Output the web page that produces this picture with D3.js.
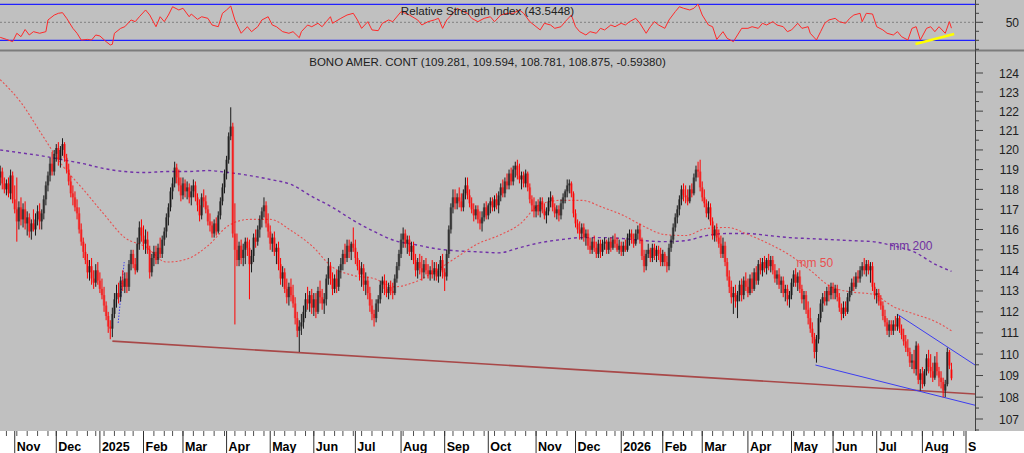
<!DOCTYPE html>
<html><head><meta charset="utf-8">
<script src="https://cdn.jsdelivr.net/npm/d3@7"></script>
<style>
body{margin:0;background:#fff;overflow:hidden}
svg{display:block}
text{font-family:"Liberation Sans",Arial,Helvetica,sans-serif}
</style></head>
<body><svg id="c" width="1024" height="453"></svg>
<script>
// ---------------- DATA ----------------
const firstDay = "2024-10-23";
const lastCalendarDay = "2026-09-04";
const holidays = ["2024-11-28","2024-12-25","2025-01-01","2025-01-20","2025-02-17","2025-04-18","2025-05-26",
  "2025-06-19","2025-07-04","2025-09-01","2025-11-27","2025-12-25","2026-01-01","2026-01-19","2026-02-16",
  "2026-04-03","2026-05-25","2026-06-19","2026-07-03"];
const monthLabels = ["Nov","Dec","2025","Feb","Mar","Apr","May","Jun","Jul","Aug","Sep","Oct","Nov","Dec",
  "2026","Feb","Mar","Apr","May","Jun","Jul","Aug","Sep"];

const open = [
118.6,118.9,118.3,118.0,118.3,117.8,118.7,117.5,117.0,116.4,
117.1,116.5,117.0,116.3,116.6,115.9,116.3,116.0,116.5,116.9,
116.4,116.8,117.5,118.2,118.7,119.3,118.9,119.8,120.1,119.5,
120.0,120.3,119.6,119.0,118.4,117.8,117.6,117.1,116.8,116.0,
115.4,114.9,114.5,113.9,114.2,113.6,113.4,114.0,113.5,113.1,
112.8,112.3,111.8,111.3,111.2,111.9,112.6,112.9,112.7,113.5,
113.2,113.6,113.2,114.3,114.8,114.3,114.0,115.3,116.1,115.7,
115.3,115.5,115.0,113.9,114.6,114.9,114.5,115.1,114.8,115.5,
115.9,116.6,117.1,117.9,118.3,119.1,118.6,118.2,117.7,118.3,
117.9,118.1,117.6,117.9,118.2,117.6,117.2,116.7,117.6,117.4,
117.0,116.4,116.2,115.8,116.3,115.9,116.7,117.4,118.1,118.8,
119.5,120.7,121.2,115.8,115.0,114.5,115.2,114.6,115.0,115.4,
115.1,114.3,114.7,115.6,115.4,116.0,116.5,116.9,117.2,116.3,
115.9,115.3,115.6,114.9,115.1,114.3,113.6,113.9,113.1,112.7,
113.2,112.8,112.4,111.7,111.1,111.3,111.5,112.0,112.6,112.4,
112.8,112.2,112.6,112.0,113.0,112.7,112.4,112.6,113.6,114.2,
113.6,113.1,113.6,113.2,114.0,114.3,114.8,114.6,115.2,114.9,
115.3,115.1,114.6,114.2,113.8,114.1,113.3,113.5,112.9,112.3,
111.9,111.7,112.4,112.6,113.3,113.5,113.1,112.9,113.2,113.0,
112.9,113.6,114.2,114.8,115.5,115.8,115.3,115.5,114.9,115.2,
114.5,114.0,114.4,114.1,113.9,114.3,114.0,113.8,114.0,113.8,
114.1,113.7,114.0,114.5,113.9,113.7,114.8,116.0,117.1,117.6,
117.3,117.6,117.4,117.1,117.8,118.2,117.7,117.3,117.0,116.7,
117.0,116.5,116.3,116.6,117.1,116.7,117.2,117.4,117.1,117.5,
117.2,117.7,118.1,117.8,118.4,118.2,118.8,118.4,119.0,119.2,
118.7,118.5,118.7,118.3,118.8,118.1,117.5,117.2,116.9,117.2,
116.9,117.4,117.0,116.7,116.9,117.4,117.6,117.1,116.8,117.0,
116.7,117.3,117.6,117.9,118.2,118.3,117.8,116.8,116.3,116.0,
115.8,116.1,115.6,115.8,115.2,115.0,115.4,115.1,114.8,115.3,
114.9,115.3,115.4,115.0,115.4,115.1,115.5,115.3,115.0,115.2,
114.9,115.2,115.0,115.6,115.8,115.5,115.3,115.8,116.0,115.5,
114.7,114.2,114.8,115.0,114.6,115.1,114.7,115.0,114.8,114.4,
114.8,114.4,114.2,115.1,115.5,116.1,116.6,117.0,117.5,118.0,
117.7,117.6,117.4,118.0,117.8,118.6,119.0,118.9,118.1,117.6,
117.3,116.8,117.1,116.4,115.7,116.0,115.6,115.3,114.8,115.2,
114.4,113.7,113.2,112.7,112.9,112.5,112.8,113.3,112.8,113.5,
113.2,112.9,113.6,113.1,113.9,113.5,114.3,114.0,114.4,114.1,
114.5,114.2,114.5,114.0,113.6,113.8,113.3,113.5,112.9,113.1,
112.6,112.8,113.4,113.8,113.4,113.7,113.1,112.6,112.8,112.1,
111.7,111.2,110.8,110.1,110.7,111.7,112.4,112.7,112.5,113.0,
112.8,113.2,112.9,113.1,112.7,112.2,111.9,112.2,112.0,112.7,
113.0,113.4,113.2,113.7,113.6,114.0,114.2,114.0,114.3,114.0,
114.2,113.2,112.8,112.9,112.5,112.3,111.8,111.5,111.1,111.4,
111.1,111.4,111.3,111.7,111.2,110.9,110.6,110.3,110.1,109.6,
109.7,109.3,110.4,108.8,109.1,108.6,109.2,109.8,109.4,109.2,
108.9,109.6,109.2,108.9,108.7,108.3,108.6,110.1,109.281];

const high = [
119.2,119.1,118.6,118.5,118.6,119.0,118.9,118.2,118.6,117.4,
117.6,117.3,117.4,116.9,116.8,116.5,117.0,116.8,117.2,117.3,
117.0,117.7,118.4,118.9,119.6,119.9,120.0,120.3,120.4,120.2,
120.6,120.4,119.8,119.3,118.7,118.2,117.9,117.5,117.1,116.3,
115.6,115.3,114.8,114.5,114.6,114.0,114.3,114.4,113.9,113.6,
113.2,112.5,112.0,111.6,112.2,112.9,113.3,113.4,113.7,114.0,
113.9,113.9,114.5,115.0,115.0,114.6,115.6,116.4,116.5,116.2,
116.0,115.9,115.2,114.8,115.2,115.2,115.3,115.6,115.7,116.1,
116.8,117.3,118.1,118.6,119.4,119.3,119.0,118.6,118.6,118.5,
118.4,118.3,118.2,118.5,118.4,117.8,117.5,117.8,118.0,117.7,
117.2,116.8,116.4,116.5,116.6,116.9,117.6,118.3,119.0,119.7,
120.9,122.2,121.4,117.3,115.8,115.4,115.5,115.3,115.6,115.6,
115.5,115.0,115.8,116.0,116.2,116.7,117.1,117.6,117.4,116.8,
116.2,115.8,115.9,115.3,115.4,114.6,114.2,114.1,113.6,113.4,
113.6,113.3,112.7,112.0,111.6,111.9,112.3,112.9,113.2,113.0,
113.1,112.9,112.9,113.2,113.5,113.1,112.9,113.8,114.6,114.4,
113.9,113.8,114.0,114.2,114.6,115.0,115.3,115.5,115.5,115.4,
116.1,115.5,114.9,114.5,114.4,114.3,113.9,113.7,113.2,112.6,
112.1,112.6,112.8,113.5,113.7,113.8,113.5,113.4,113.5,113.4,
113.8,114.4,115.0,115.8,116.1,116.0,115.7,115.7,115.4,115.4,
114.8,114.6,114.8,114.7,114.5,114.6,114.3,114.2,114.5,114.4,
114.4,114.3,114.7,114.8,114.1,115.0,116.2,117.3,118.0,118.0,
117.8,118.1,117.8,118.0,118.6,118.6,118.0,117.6,117.3,117.2,
117.2,116.9,116.9,117.3,117.4,117.3,117.6,117.6,117.7,117.8,
117.9,118.3,118.5,118.6,118.8,119.0,119.1,119.2,119.4,119.5,
119.3,118.9,118.9,119.0,118.9,118.3,117.7,117.6,117.4,117.5,
117.6,117.6,117.3,117.1,117.6,117.9,117.7,117.3,117.2,117.2,
117.5,117.8,118.0,118.5,118.5,118.4,117.9,117.0,116.5,116.4,
116.3,116.3,116.0,116.0,115.6,115.6,115.7,115.4,115.5,115.5,
115.5,115.6,115.5,115.6,115.6,115.7,115.8,115.6,115.5,115.4,
115.4,115.5,115.8,116.0,116.0,115.8,116.0,116.2,116.3,115.6,
115.0,115.0,115.3,115.1,115.3,115.3,115.2,115.2,115.1,115.0,
114.9,114.7,115.3,115.7,116.3,116.8,117.2,117.7,118.2,118.3,
118.2,118.0,118.2,118.3,118.8,119.2,119.4,119.5,118.4,118.0,
117.5,117.4,117.3,116.6,116.2,116.3,116.0,115.7,115.6,115.4,
114.6,114.0,113.5,113.2,113.3,113.0,113.5,113.6,113.7,113.9,
113.6,113.8,113.9,114.1,114.2,114.5,114.6,114.6,114.7,114.6,
114.8,114.7,114.7,114.3,114.0,114.1,113.7,113.7,113.3,113.3,
113.0,113.6,114.0,114.1,113.9,114.0,113.3,113.0,113.0,112.5,
112.2,111.5,111.0,110.9,111.9,112.6,112.9,113.0,113.2,113.3,
113.4,113.4,113.3,113.3,112.9,112.4,112.5,112.5,112.9,113.2,
113.6,113.7,113.9,114.0,114.2,114.4,114.6,114.5,114.5,114.4,
114.4,113.4,113.1,113.1,112.8,112.5,112.1,111.7,111.6,111.6,
111.6,111.8,111.9,111.8,111.4,111.2,110.9,110.7,110.3,110.0,
110.2,110.6,110.5,109.3,109.4,109.3,110.0,110.2,110.0,109.6,
109.9,110.1,109.4,109.2,108.9,108.8,110.3,110.2,109.594];

const low = [
118.2,118.0,117.8,117.7,117.6,117.5,117.3,116.8,115.4,116.0,
116.2,116.1,116.0,115.7,115.6,115.5,115.9,115.7,116.2,116.0,
116.0,116.5,117.2,117.9,118.4,118.7,118.7,119.4,119.2,119.1,
119.7,119.4,118.8,118.2,117.6,117.2,116.9,116.5,115.8,115.2,
114.6,114.3,113.6,113.5,113.3,113.1,113.2,113.3,112.9,112.6,
112.0,111.6,111.0,110.7,110.8,111.7,112.2,112.4,112.5,113.0,
112.9,112.9,113.0,114.0,114.1,113.8,113.9,115.0,115.4,115.0,
114.8,114.8,113.6,113.7,114.2,114.3,114.3,114.6,114.6,115.2,
115.6,116.2,116.9,117.5,118.1,118.3,117.9,117.4,117.5,117.6,
117.5,117.3,117.2,117.6,117.4,116.9,116.4,116.5,117.1,116.8,
116.2,115.9,115.6,115.6,115.7,115.8,116.5,117.2,117.8,118.5,
119.3,120.5,115.6,111.4,114.2,114.2,114.3,114.2,114.3,114.7,
112.6,113.9,114.4,115.1,115.2,115.6,116.1,116.6,116.1,115.6,
115.0,114.9,114.7,114.3,114.0,113.3,113.2,112.9,112.4,112.3,
112.5,112.2,111.4,110.8,110.1,110.9,111.2,111.7,112.1,112.0,
111.9,111.8,111.7,111.9,112.4,112.1,111.9,112.3,113.3,113.3,
112.8,112.9,112.9,113.0,113.6,114.0,114.3,114.4,114.6,114.5,
114.9,114.3,114.0,113.5,113.2,113.0,112.8,112.6,112.0,111.6,
111.3,111.5,112.0,112.4,112.9,112.8,112.7,112.6,112.8,112.6,
112.8,113.4,114.0,114.6,115.1,115.1,114.8,114.7,114.5,114.3,
113.7,113.6,113.8,113.5,113.6,113.8,113.6,113.5,113.6,113.5,
113.5,113.4,113.7,113.6,113.0,113.5,114.6,115.8,116.8,117.0,
117.0,117.1,116.9,116.9,117.5,117.5,117.1,116.8,116.4,116.5,
116.3,116.0,115.9,116.4,116.5,116.5,116.8,116.9,116.9,117.0,
116.8,117.4,117.6,117.6,118.0,118.0,118.2,118.2,118.6,118.5,
118.3,118.0,118.1,118.1,117.9,117.3,116.9,116.6,116.6,116.7,
116.6,116.8,116.5,116.3,116.7,117.1,116.9,116.6,116.5,116.4,
116.5,117.0,117.3,117.6,117.8,117.6,116.6,116.1,115.8,115.5,
115.5,115.4,115.2,115.0,114.8,114.8,114.9,114.6,114.6,114.6,
114.7,115.0,114.8,114.8,114.9,115.0,115.1,114.9,114.8,114.7,
114.7,114.9,114.9,115.2,115.3,115.1,115.2,115.5,115.3,114.5,
113.9,114.0,114.6,114.4,114.4,114.5,114.4,114.5,114.2,114.2,
114.2,113.9,114.0,114.9,115.3,115.9,116.3,116.7,117.2,117.4,
117.3,117.2,117.3,117.6,117.7,118.4,118.6,117.9,117.4,117.1,
116.6,116.5,116.2,115.5,115.4,115.4,115.1,114.6,114.6,114.2,
113.5,112.9,112.4,111.9,112.2,111.7,112.5,112.5,112.6,113.0,
112.7,112.8,112.9,113.0,113.3,113.3,113.8,113.7,113.9,113.8,
114.0,113.9,113.8,113.4,113.3,113.1,112.9,112.7,112.5,112.3,
112.2,112.6,113.2,113.2,113.0,112.9,112.4,112.1,111.9,111.4,
111.0,110.5,109.8,109.6,110.5,111.5,112.0,112.3,112.3,112.5,
112.6,112.6,112.6,112.5,112.0,111.6,111.7,111.8,111.9,112.5,
112.8,113.0,113.1,113.4,113.4,113.7,113.8,113.7,113.8,113.4,
113.0,112.6,112.4,112.3,112.1,111.6,111.3,110.9,110.8,110.9,
110.9,111.1,111.1,111.0,110.7,110.4,110.1,109.9,109.4,109.3,
109.1,109.0,108.6,108.3,108.4,108.5,109.0,109.1,108.9,108.7,
108.8,109.0,108.5,108.4,108.0,108.0,108.5,109.3,108.781];

const close = [
118.9,118.3,118.0,118.3,117.8,118.7,117.5,117.0,116.4,117.1,
116.5,117.0,116.3,116.6,115.9,116.3,116.0,116.5,116.9,116.4,
116.8,117.5,118.2,118.7,119.3,118.9,119.8,120.1,119.5,120.0,
120.3,119.6,119.0,118.4,117.8,117.6,117.1,116.8,116.0,115.4,
114.9,114.5,113.9,114.2,113.6,113.4,114.0,113.5,113.1,112.8,
112.3,111.8,111.3,111.2,111.9,112.6,112.9,112.7,113.5,113.2,
113.6,113.2,114.3,114.8,114.3,114.0,115.3,116.1,115.7,115.3,
115.5,115.0,113.9,114.6,114.9,114.5,115.1,114.8,115.5,115.9,
116.6,117.1,117.9,118.3,119.1,118.6,118.2,117.7,118.3,117.9,
118.1,117.6,117.9,118.2,117.6,117.2,116.7,117.6,117.4,117.0,
116.4,116.2,115.8,116.3,115.9,116.7,117.4,118.1,118.8,119.5,
120.7,121.2,115.8,115.0,114.5,115.2,114.6,115.0,115.4,115.1,
114.3,114.7,115.6,115.4,116.0,116.5,116.9,117.2,116.3,115.9,
115.3,115.6,114.9,115.1,114.3,113.6,113.9,113.1,112.7,113.2,
112.8,112.4,111.7,111.1,111.3,111.5,112.0,112.6,112.4,112.8,
112.2,112.6,112.0,113.0,112.7,112.4,112.6,113.6,114.2,113.6,
113.1,113.6,113.2,114.0,114.3,114.8,114.6,115.2,114.9,115.3,
115.1,114.6,114.2,113.8,114.1,113.3,113.5,112.9,112.3,111.9,
111.7,112.4,112.6,113.3,113.5,113.1,112.9,113.2,113.0,112.9,
113.6,114.2,114.8,115.5,115.8,115.3,115.5,114.9,115.2,114.5,
114.0,114.4,114.1,113.9,114.3,114.0,113.8,114.0,113.8,114.1,
113.7,114.0,114.5,113.9,113.7,114.8,116.0,117.1,117.6,117.3,
117.6,117.4,117.1,117.8,118.2,117.7,117.3,117.0,116.7,117.0,
116.5,116.3,116.6,117.1,116.7,117.2,117.4,117.1,117.5,117.2,
117.7,118.1,117.8,118.4,118.2,118.8,118.4,119.0,119.2,118.7,
118.5,118.7,118.3,118.8,118.1,117.5,117.2,116.9,117.2,116.9,
117.4,117.0,116.7,116.9,117.4,117.6,117.1,116.8,117.0,116.7,
117.3,117.6,117.9,118.2,118.3,117.8,116.8,116.3,116.0,115.8,
116.1,115.6,115.8,115.2,115.0,115.4,115.1,114.8,115.3,114.9,
115.3,115.4,115.0,115.4,115.1,115.5,115.3,115.0,115.2,114.9,
115.2,115.0,115.6,115.8,115.5,115.3,115.8,116.0,115.5,114.7,
114.2,114.8,115.0,114.6,115.1,114.7,115.0,114.8,114.4,114.8,
114.4,114.2,115.1,115.5,116.1,116.6,117.0,117.5,118.0,117.7,
117.6,117.4,118.0,117.8,118.6,119.0,118.9,118.1,117.6,117.3,
116.8,117.1,116.4,115.7,116.0,115.6,115.3,114.8,115.2,114.4,
113.7,113.2,112.7,112.9,112.5,112.8,113.3,112.8,113.5,113.2,
112.9,113.6,113.1,113.9,113.5,114.3,114.0,114.4,114.1,114.5,
114.2,114.5,114.0,113.6,113.8,113.3,113.5,112.9,113.1,112.6,
112.8,113.4,113.8,113.4,113.7,113.1,112.6,112.8,112.1,111.7,
111.2,110.8,110.1,110.7,111.7,112.4,112.7,112.5,113.0,112.8,
113.2,112.9,113.1,112.7,112.2,111.9,112.2,112.0,112.7,113.0,
113.4,113.2,113.7,113.6,114.0,114.2,114.0,114.3,114.0,114.2,
113.2,112.8,112.9,112.5,112.3,111.8,111.5,111.1,111.4,111.1,
111.4,111.3,111.7,111.2,110.9,110.6,110.3,110.1,109.6,109.7,
109.3,110.4,108.8,109.1,108.6,109.2,109.8,109.4,109.2,108.9,
109.6,109.2,108.9,108.7,108.3,108.6,110.1,109.469,108.875];

// moving averages (bar number -> value)
const maBars = [0,10,20,30,40,50,60,70,80,90,100,110,120,130,140,150,160,170,180,190,200,210,220,230,240,
  250,260,270,280,290,300,310,320,330,340,350,360,370,380,390,400,410,420,430,440,450,458];
const ma50 = [123.65,122.45,120.8,119.2,118.0,116.75,115.6,115.15,114.4,114.55,115.2,116.2,116.5,116.5,115.95,
  115.2,114.15,113.75,113.6,113.2,113.45,114.0,114.65,115.3,115.7,116.25,117.25,117.45,117.45,117.1,116.7,
  116.15,115.75,115.7,116.05,116.1,115.75,115.3,114.75,114.0,113.2,112.95,112.85,112.25,111.9,111.55,111.1];
const ma200 = [120.0,119.85,119.7,119.5,119.3,119.05,118.9,118.85,118.9,118.9,118.95,118.85,118.7,118.5,118.25,
  117.65,117.1,116.45,115.9,115.45,115.25,115.05,114.95,114.9,114.85,115.1,115.35,115.5,115.6,115.6,115.55,
  115.45,115.4,115.45,115.7,115.8,115.8,115.7,115.6,115.55,115.5,115.45,115.4,115.2,114.9,114.3,113.95];

// RSI(14)
const rsiBars = [0,3,6,8,10,12,14,16,19,22,23,26,28,30,32,35,37,39,42,44,46,48,51,53,54,55,58,60,63,65,67,70,72,
  75,77,79,81,83,86,88,91,92,95,97,100,102,105,107,109,111,113,116,119,121,124,126,129,131,133,136,139,141,144,
  145,148,150,153,155,157,159,160,164,167,170,172,174,177,179,182,184,187,189,193,195,197,201,203,206,209,211,
  213,215,218,220,223,225,227,230,233,236,238,241,244,247,250,252,255,257,260,262,265,267,270,272,275,277,279,
  282,284,287,289,291,294,296,299,301,303,306,308,311,313,315,317,320,322,325,327,329,332,334,336,338,341,343,
  345,348,350,353,355,357,360,362,365,367,369,372,374,377,379,381,384,386,389,390,393,395,397,399,402,404,407,
  409,411,414,415,417,420,422,425,427,430,432,434,437,439,441,443,446,448,450,452,455,457,458];
const rsiVals = [33.3,31,28.5,37.8,34,42,35.9,39.6,37.8,39.6,52.6,58,60,60.7,54.4,43.3,37.8,30.3,31,30.3,35.9,34.8,
  28.5,24.8,25.6,37.8,43.3,45.1,52.6,50.7,56.2,63.7,58.1,45.1,56.2,50.7,58.1,67.3,63.7,65.6,56.2,59.2,53.3,56.2,
  54.4,47,45.1,60,63.7,68.1,52.6,37.8,45.1,39.6,45.1,52.6,56.2,47,45.1,39.6,37.8,39.6,32.9,39.6,47,45.1,48.9,45.1,
  50.7,56.2,48.9,54.4,58.1,60,52.6,43.3,50.7,41.5,40.7,48.9,52.6,50.7,61.8,60,58.1,52.6,47,50.7,52.6,54.4,43.3,
  52.6,60,65.6,61.8,60,54.4,50.7,54.4,56.2,50.7,58.1,60,60,63.7,60,50.7,47,41.5,48.9,47,43.3,45.1,50.7,58.1,45.1,
  39.6,35.9,39.6,37.8,43.3,41.5,47,45.1,48.9,47,50.7,54.4,48.9,37.8,45.1,50.7,47,43.3,52.6,61.8,67.3,65.6,63.7,
  65.6,70.3,58.1,47,45.1,31,39.6,32.2,28.5,35.9,43.3,43.3,45.1,43.3,48.9,47,50.7,47,45.1,39.6,41.5,48.9,43.3,
  45.1,37.8,30.3,39.6,48.9,52.6,54.4,50.7,48.9,54.4,58.1,60,50.7,60,59.2,45.1,41.5,37.8,35.9,39.6,34,30.3,43.3,
  45.1,30.3,43.3,45.1,39.6,45.1,37.8,50.7,43.5];

// drawn trend lines (bar number, price) and RSI support (bar number, RSI)
const longSupport = [[54, 110.61], [470, 108.14]];
const wedgeLower = [[392.5, 109.49], [471, 107.59]];
const wedgeUpper = [[432.3, 111.86], [470, 109.45]];
const janSupport = [[56.8, 111.47], [59.7, 114.4]];
const rsiTrend = [[440.7, 25.9], [459.3, 37]];

const priceTicks = d3.range(107, 125);
const rsiTicks = [20, 30, 40, 50, 60, 70];
const titleRSI = "Relative Strength Index (43.5448)";
const titlePrice = "BONO AMER. CONT (109.281, 109.594, 108.781, 108.875, -0.59380)";

// ---------------- CHART ----------------
const W = 1024, H = 453, axisX = 975, bottomY = 431;
const svg = d3.select("#c");
const fmt = d3.timeFormat("%Y-%m-%d");
const hol = new Set(holidays);
const parse = d3.timeParse("%Y-%m-%d");
const days = d3.timeDay.range(parse(firstDay), parse(lastCalendarDay))
  .filter(d => d.getDay() !== 0 && d.getDay() !== 6 && !hol.has(fmt(d)));
const monthStarts = [];
days.forEach((d, i) => { if (i > 0 && d.getMonth() !== days[i-1].getMonth()) monthStarts.push(i); });
const weekStarts = [];
days.forEach((d, i) => { if (i > 0 && (d - days[i-1]) > 2.5 * 864e5) weekStarts.push(i); });
const sepIdx = monthStarts[monthStarts.length - 1];

const x = d3.scaleLinear().domain([0, sepIdx]).range([0.2, 966]);
const y = d3.scaleLog().domain([107, 124]).range([419, 73]);
const yR = d3.scaleLinear().domain([30, 70]).range([40.3, 4.3]);

// backgrounds
svg.append("rect").attr("width", W).attr("height", H).attr("fill", "#c0c0c0");
svg.append("rect").attr("x", 0).attr("y", bottomY).attr("width", W).attr("height", H - bottomY).attr("fill", "#ffffff");

const defs = svg.append("defs");
defs.append("clipPath").attr("id", "cp").append("rect").attr("x", 0).attr("y", 52).attr("width", axisX).attr("height", bottomY - 52);
defs.append("clipPath").attr("id", "cr").append("rect").attr("x", 0).attr("y", 0).attr("width", axisX).attr("height", 49);
defs.append("clipPath").attr("id", "cb").append("rect").attr("x", 0).attr("y", bottomY).attr("width", axisX + 1).attr("height", H - bottomY);

// ---- RSI panel ----
const gR = svg.append("g").attr("clip-path", "url(#cr)");
[70, 30].forEach(v => gR.append("line").attr("x1", 0).attr("x2", axisX).attr("y1", yR(v)).attr("y2", yR(v))
  .attr("stroke", "#2020ff").attr("stroke-width", 1.2));
gR.append("line").attr("x1", 0).attr("x2", axisX).attr("y1", yR(50)).attr("y2", yR(50))
  .attr("stroke", "#808080").attr("stroke-dasharray", "2,2");
gR.append("path").datum(rsiBars.map((b, i) => [b, rsiVals[i]]))
  .attr("d", d3.line().x(d => x(d[0])).y(d => yR(d[1])))
  .attr("fill", "none").attr("stroke", "#ff2a2a").attr("stroke-width", 1);
gR.append("line").attr("x1", x(rsiTrend[0][0])).attr("y1", yR(rsiTrend[0][1]))
  .attr("x2", x(rsiTrend[1][0])).attr("y2", yR(rsiTrend[1][1]))
  .attr("stroke", "#ffff00").attr("stroke-width", 2.5);
svg.append("text").attr("x", 487.5).attr("y", 14.5).attr("text-anchor", "middle").attr("font-size", 11.6)
  .attr("fill", "#202020").text(titleRSI);

// separator
svg.append("rect").attr("x", 0).attr("y", 49.5).attr("width", W).attr("height", 2).attr("fill", "#7c7c7c");

// ---- Price panel ----
const gP = svg.append("g").attr("clip-path", "url(#cp)");
const maLine = d3.line().x(d => x(d[0])).y(d => y(d[1])).curve(d3.curveMonotoneX);
gP.append("path").datum(maBars.map((b, i) => [b, ma200[i]])).attr("d", maLine)
  .attr("fill", "none").attr("stroke", "#7030a8").attr("stroke-width", 1.4).attr("stroke-dasharray", "3,3");
gP.append("path").datum(maBars.map((b, i) => [b, ma50[i]])).attr("d", maLine)
  .attr("fill", "none").attr("stroke", "#e85050").attr("stroke-width", 1.1).attr("stroke-dasharray", "2,2");

const seg = (g, pts, color, w, dash) => g.append("line")
  .attr("x1", x(pts[0][0])).attr("y1", y(pts[0][1])).attr("x2", x(pts[1][0])).attr("y2", y(pts[1][1]))
  .attr("stroke", color).attr("stroke-width", w).attr("stroke-dasharray", dash || null);
seg(gP, longSupport, "#a84848", 1.6);
seg(gP, wedgeLower, "#3c3cf0", 1);
seg(gP, wedgeUpper, "#3c3cf0", 1);
seg(gP, janSupport, "#3c3cf0", 1, "1.5,1.5");

const candles = gP.append("g").selectAll("g").data(close.map((c, i) => ({i, o: open[i], h: high[i], l: low[i], c})))
  .join("g");
candles.append("rect")
  .attr("x", d => x(d.i) - 1.3).attr("width", 2.6)
  .attr("y", d => y(Math.max(d.o, d.c)))
  .attr("height", d => Math.max(1, y(Math.min(d.o, d.c)) - y(Math.max(d.o, d.c))))
  .attr("fill", d => d.c >= d.o ? "#000000" : "#ff0000").attr("opacity", 0.48);
candles.append("line")
  .attr("x1", d => x(d.i)).attr("x2", d => x(d.i))
  .attr("y1", d => y(d.h)).attr("y2", d => y(d.l))
  .attr("stroke", d => d.c >= d.o ? "#1a1a1a" : "#ff0000").attr("stroke-width", 1);

gP.append("text").attr("x", x(428)).attr("y", y(115.0)).attr("font-size", 12).attr("fill", "#7030a0").text("mm 200");
gP.append("text").attr("x", x(383.4)).attr("y", y(114.16)).attr("font-size", 12).attr("fill", "#e85050").text("mm 50");

svg.append("text").attr("x", 487.5).attr("y", 66).attr("text-anchor", "middle").attr("font-size", 11.5)
  .attr("fill", "#202020").text(titlePrice);

// ---- Right axis ----
svg.append("line").attr("x1", axisX + 0.5).attr("x2", axisX + 0.5).attr("y1", 0).attr("y2", bottomY)
  .attr("stroke", "#404040");
priceTicks.forEach(p => {
  svg.append("line").attr("x1", axisX).attr("x2", axisX + 8).attr("y1", y(p)).attr("y2", y(p)).attr("stroke", "#404040");
  svg.append("line").attr("x1", axisX).attr("x2", axisX + 4).attr("y1", y(p + 0.5)).attr("y2", y(p + 0.5)).attr("stroke", "#404040");
  svg.append("text").attr("x", 1019).attr("y", y(p) + 4.5).attr("text-anchor", "end").attr("font-size", 12)
    .attr("fill", "#202020").text(p);
});
svg.append("line").attr("x1", axisX).attr("x2", axisX + 4).attr("y1", y(106.5)).attr("y2", y(106.5)).attr("stroke", "#404040");
rsiTicks.forEach(v => {
  svg.append("line").attr("x1", axisX).attr("x2", axisX + (v === 50 ? 8 : 4)).attr("y1", yR(v)).attr("y2", yR(v)).attr("stroke", "#404040");
});
svg.append("text").attr("x", 1019).attr("y", yR(50) + 4.5).attr("text-anchor", "end").attr("font-size", 12)
  .attr("fill", "#202020").text("50");

// ---- Bottom axis ----
const gB = svg.append("g").attr("clip-path", "url(#cb)");
weekStarts.forEach(i => gB.append("line").attr("x1", x(i)).attr("x2", x(i)).attr("y1", bottomY).attr("y2", bottomY + 5)
  .attr("stroke", "#505050"));
monthStarts.forEach((i, k) => {
  gB.append("line").attr("x1", x(i)).attr("x2", x(i)).attr("y1", bottomY).attr("y2", H).attr("stroke", "#303030");
  gB.append("text").attr("x", x(i) + 2).attr("y", 450.5).attr("font-size", 12.5).attr("font-weight", "bold")
    .attr("fill", "#000").text(monthLabels[k]);
});
</script>
</body></html>
